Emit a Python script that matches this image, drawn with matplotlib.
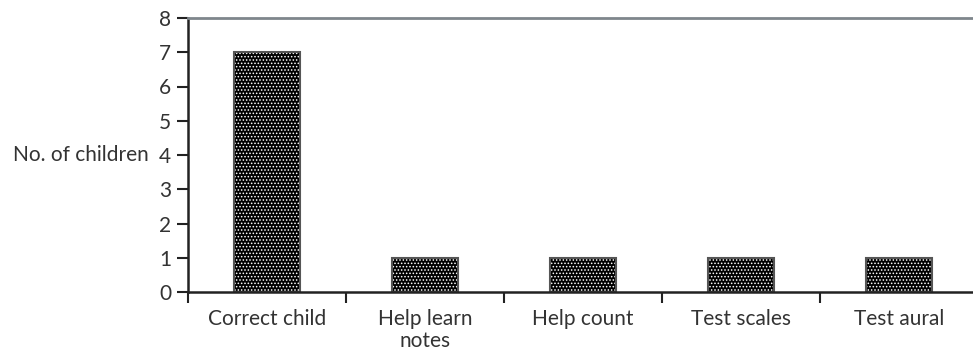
import numpy as np
import matplotlib.pyplot as plt

plt.rcParams['font.family'] = ['Lato', 'DejaVu Sans']
plt.rcParams['hatch.linewidth'] = 0.7

tasks = ['Correct child', 'Help learn\nnotes', 'Help count', 'Test scales', 'Test aural']
children = [7, 1, 1, 1, 1]

fig = plt.figure(figsize=(9.73, 3.51), dpi=100)
ax = fig.add_axes([188 / 973, (351 - 292) / 351, 790 / 973, 274 / 351])

x = np.arange(len(tasks))
ax.bar(x, children, width=0.42, color='black', edgecolor='white', hatch='.....', linewidth=0)
ax.bar(x, children, width=0.42, color='none', edgecolor='#555555', linewidth=1.5)

ax.set_xlim(-0.5, len(tasks) - 0.5)
ax.set_ylim(0, 8)
ax.set_yticks(range(0, 9))
ax.set_xticks(np.arange(len(tasks) + 1) - 0.5, minor=False)
ax.set_xticklabels([])
ax.set_xticks(x, minor=True)
ax.set_xticklabels(tasks, minor=True, fontsize=15, color='#333333', linespacing=1.15)
ax.tick_params(axis='x', which='minor', length=0, pad=12)
ax.tick_params(axis='x', which='major', direction='out', length=8, width=1.5, color='#222222')
ax.tick_params(axis='y', direction='out', length=8, width=1.5, color='#222222',
               labelsize=15, labelcolor='#333333', pad=4)

for side in ['left', 'bottom']:
    ax.spines[side].set_linewidth(1.8)
    ax.spines[side].set_color('#222222')
ax.spines['top'].set_color('#7f868c')
ax.spines['top'].set_linewidth(2)
ax.spines['right'].set_visible(False)

ax.set_ylabel('No. of children', rotation=0, fontsize=15, color='#333333',
              ha='right', va='center')
ax.yaxis.set_label_coords(-0.05, 0.5)

fig.savefig('out.png', dpi=100)
